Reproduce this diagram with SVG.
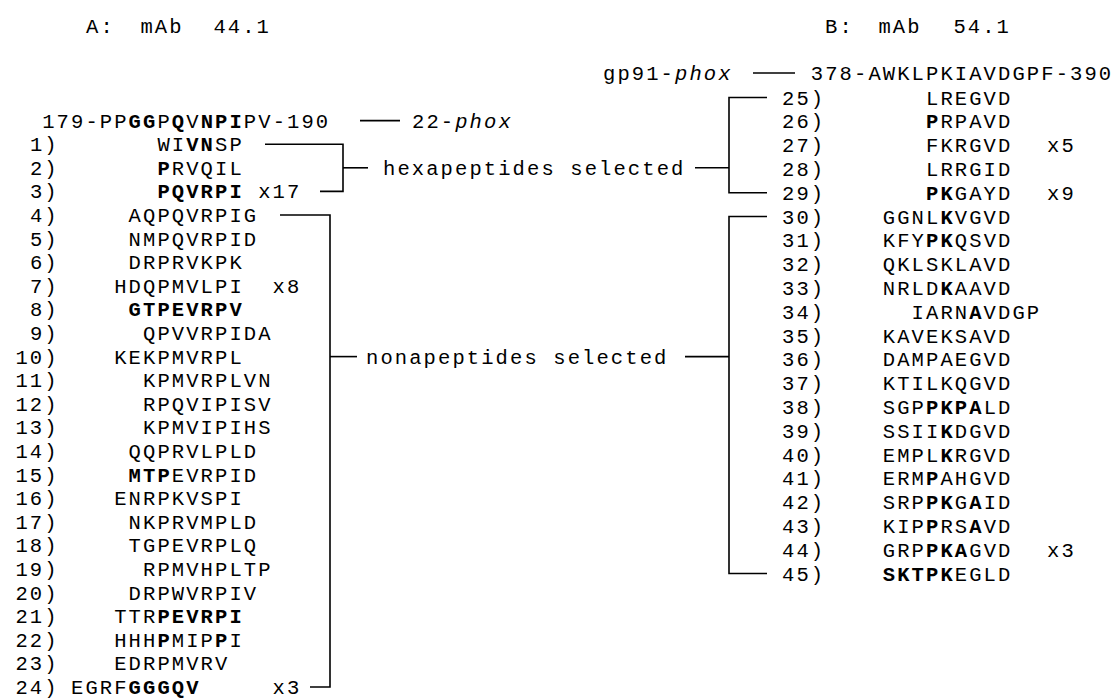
<svg xmlns="http://www.w3.org/2000/svg" width="1120" height="700" viewBox="0 0 1120 700">
<style>
.t{font-family:"Liberation Mono","Courier New",monospace;font-size:20.5px;letter-spacing:2.1px;fill:#000}
.n{text-anchor:end}
.b{font-weight:bold}
.i{font-style:italic}
.ln{stroke:#000;stroke-width:1.6;fill:none}
</style>
<rect width="1120" height="700" fill="#fff"/>
<g id="title-a" class="t"><text x="86" y="32.6"><tspan>A:</tspan><tspan x="126"> mAb</tspan><tspan x="199"> 44.1</tspan></text></g>
<g id="title-b" class="t"><text x="825" y="32.6"><tspan>B:</tspan><tspan x="864"> mAb</tspan><tspan x="939"> 54.1</tspan></text></g>
<g id="ref-a"><text class="t" x="42.2" y="127.6">179-PP<tspan class="b">GG</tspan>P<tspan class="b">Q</tspan>V<tspan class="b">N</tspan><tspan class="b">PI</tspan>PV-190</text>
<text class="t" x="412" y="127.6">22-<tspan class="i">phox</tspan></text></g>
<g id="ref-b"><text class="t" x="603" y="80.2">gp91-<tspan class="i">phox</tspan></text>
<text class="t" x="810.8" y="80.2">378-AWKLPKIAVDGPF-390</text></g>
<g id="label-hexa"><text class="t" x="383" y="174.8">hexapeptides selected</text></g>
<g id="label-nona"><text class="t" x="366" y="363.6">nonapeptides selected</text></g>
<g id="rows-a" class="t">
<g id="row-1"><text class="n" x="58.7" y="151.2">1)</text><text x="157.4" y="151.2">WI<tspan class="b">VN</tspan>SP</text></g>
<g id="row-2"><text class="n" x="58.7" y="174.8">2)</text><text x="157.4" y="174.8"><tspan class="b">P</tspan>RVQIL</text></g>
<g id="row-3"><text class="n" x="58.7" y="198.4">3)</text><text x="157.4" y="198.4"><tspan class="b">PQVRPI</tspan></text><text x="258.2" y="198.4">x17</text></g>
<g id="row-4"><text class="n" x="58.7" y="222">4)</text><text x="128.6" y="222">AQPQVRPIG</text></g>
<g id="row-5"><text class="n" x="58.7" y="245.6">5)</text><text x="128.6" y="245.6">NMPQVRPID</text></g>
<g id="row-6"><text class="n" x="58.7" y="269.2">6)</text><text x="128.6" y="269.2">DRPRVKPK</text></g>
<g id="row-7"><text class="n" x="58.7" y="292.8">7)</text><text x="114.2" y="292.8">HDQPMVLPI</text><text x="272.6" y="292.8">x8</text></g>
<g id="row-8"><text class="n" x="58.7" y="316.4">8)</text><text x="128.6" y="316.4"><tspan class="b">GTPEVRPV</tspan></text></g>
<g id="row-9"><text class="n" x="58.7" y="340">9)</text><text x="143" y="340">QPVVRPIDA</text></g>
<g id="row-10"><text class="n" x="58.7" y="363.6">10)</text><text x="114.2" y="363.6">KEKPMVRPL</text></g>
<g id="row-11"><text class="n" x="58.7" y="387.2">11)</text><text x="143" y="387.2">KPMVRPLVN</text></g>
<g id="row-12"><text class="n" x="58.7" y="410.8">12)</text><text x="143" y="410.8">RPQVIPISV</text></g>
<g id="row-13"><text class="n" x="58.7" y="434.4">13)</text><text x="143" y="434.4">KPMVIPIHS</text></g>
<g id="row-14"><text class="n" x="58.7" y="458">14)</text><text x="128.6" y="458">QQPRVLPLD</text></g>
<g id="row-15"><text class="n" x="58.7" y="481.6">15)</text><text x="128.6" y="481.6"><tspan class="b">MTP</tspan>EVRPID</text></g>
<g id="row-16"><text class="n" x="58.7" y="505.2">16)</text><text x="114.2" y="505.2">ENRPKVSPI</text></g>
<g id="row-17"><text class="n" x="58.7" y="528.8">17)</text><text x="128.6" y="528.8">NKPRVMPLD</text></g>
<g id="row-18"><text class="n" x="58.7" y="552.4">18)</text><text x="128.6" y="552.4">TGPEVRPLQ</text></g>
<g id="row-19"><text class="n" x="58.7" y="576">19)</text><text x="143" y="576">RPMVHPLTP</text></g>
<g id="row-20"><text class="n" x="58.7" y="599.6">20)</text><text x="128.6" y="599.6">DRPWVRPIV</text></g>
<g id="row-21"><text class="n" x="58.7" y="623.2">21)</text><text x="114.2" y="623.2">TTR<tspan class="b">PEVRPI</tspan></text></g>
<g id="row-22"><text class="n" x="58.7" y="646.8">22)</text><text x="114.2" y="646.8">HHH<tspan class="b">P</tspan>MIP<tspan class="b">P</tspan>I</text></g>
<g id="row-23"><text class="n" x="58.7" y="670.4">23)</text><text x="114.2" y="670.4">EDRPMVRV</text></g>
<g id="row-24"><text class="n" x="58.7" y="694">24)</text><text x="71" y="694">EGRF<tspan class="b">GGGQV</tspan></text><text x="272.6" y="694">x3</text></g>
</g>
<g id="rows-b" class="t">
<g id="row-25"><text x="782" y="104.5">25)</text><text x="926" y="104.5">LREGVD</text></g>
<g id="row-26"><text x="782" y="128.3">26)</text><text x="926" y="128.3"><tspan class="b">P</tspan>RPAVD</text></g>
<g id="row-27"><text x="782" y="152.1">27)</text><text x="926" y="152.1">FKRGVD</text><text x="1047" y="152.1">x5</text></g>
<g id="row-28"><text x="782" y="175.9">28)</text><text x="926" y="175.9">LRRGID</text></g>
<g id="row-29"><text x="782" y="199.7">29)</text><text x="926" y="199.7"><tspan class="b">PK</tspan>GAYD</text><text x="1047" y="199.7">x9</text></g>
<g id="row-30"><text x="782" y="223.5">30)</text><text x="882.8" y="223.5">GGNL<tspan class="b">K</tspan>VGVD</text></g>
<g id="row-31"><text x="782" y="247.3">31)</text><text x="882.8" y="247.3">KFY<tspan class="b">PK</tspan>QSVD</text></g>
<g id="row-32"><text x="782" y="271.1">32)</text><text x="882.8" y="271.1">QKLSKLAVD</text></g>
<g id="row-33"><text x="782" y="294.9">33)</text><text x="882.8" y="294.9">NRLD<tspan class="b">K</tspan>AAVD</text></g>
<g id="row-34"><text x="782" y="318.7">34)</text><text x="911.6" y="318.7">IARN<tspan class="b">A</tspan>VDGP</text></g>
<g id="row-35"><text x="782" y="342.5">35)</text><text x="882.8" y="342.5">KAVEKSAVD</text></g>
<g id="row-36"><text x="782" y="366.3">36)</text><text x="882.8" y="366.3">DAMPAEGVD</text></g>
<g id="row-37"><text x="782" y="390.1">37)</text><text x="882.8" y="390.1">KTILKQGVD</text></g>
<g id="row-38"><text x="782" y="413.9">38)</text><text x="882.8" y="413.9">SGP<tspan class="b">PKPA</tspan>LD</text></g>
<g id="row-39"><text x="782" y="437.7">39)</text><text x="882.8" y="437.7">SSII<tspan class="b">K</tspan>DGVD</text></g>
<g id="row-40"><text x="782" y="461.5">40)</text><text x="882.8" y="461.5">EMPL<tspan class="b">K</tspan>RGVD</text></g>
<g id="row-41"><text x="782" y="485.3">41)</text><text x="882.8" y="485.3">ERM<tspan class="b">P</tspan>AHGVD</text></g>
<g id="row-42"><text x="782" y="509.1">42)</text><text x="882.8" y="509.1">SRP<tspan class="b">PK</tspan>G<tspan class="b">A</tspan>ID</text></g>
<g id="row-43"><text x="782" y="532.9">43)</text><text x="882.8" y="532.9">KIP<tspan class="b">P</tspan>RS<tspan class="b">A</tspan>VD</text></g>
<g id="row-44"><text x="782" y="556.7">44)</text><text x="882.8" y="556.7">GRP<tspan class="b">PKA</tspan>GVD</text><text x="1047" y="556.7">x3</text></g>
<g id="row-45"><text x="782" y="580.5">45)</text><text x="882.8" y="580.5"><tspan class="b">SKTPK</tspan>EGLD</text></g>
</g>
<g id="connectors" class="ln">
<line x1="360" y1="120.6" x2="400" y2="120.6"/>
<line x1="753" y1="73" x2="795" y2="73"/>
<polyline points="265,144.2 343,144.2 343,191.4 320,191.4"/>
<line x1="343" y1="167.8" x2="368" y2="167.8"/>
<line x1="695" y1="167.8" x2="729" y2="167.8"/>
<polyline points="767,97.5 729,97.5 729,192.7 767,192.7"/>
<polyline points="280,215 330,215 330,687 310,687"/>
<line x1="330" y1="356.6" x2="357" y2="356.6"/>
<line x1="685" y1="356.6" x2="729" y2="356.6"/>
<polyline points="767,216.5 729,216.5 729,573.5 767,573.5"/>
</g>
</svg>
